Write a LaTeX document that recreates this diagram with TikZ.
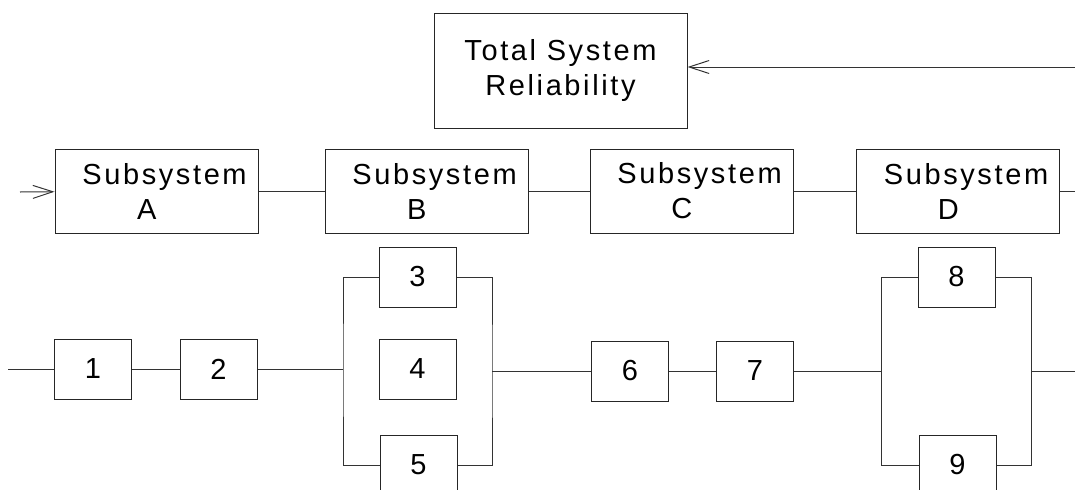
\documentclass[tikz,border=0pt]{standalone}
\usepackage{fontspec}
\setmainfont{Liberation Sans}
\newfontfamily\spacedfont{Liberation Sans}[LetterSpace=9]
\usetikzlibrary{arrows.meta, positioning, calc}

% label of a subsystem block: word a little right, letter a little left
\newcommand{\subsys}[1]{\kern8pt Subsystem\\#1\kern9.6pt}

\begin{document}
\begin{tikzpicture}[x=50pt, y=50pt]
  \tikzset{
    bigbox/.style={draw=black!85, line width=0.5pt, inner sep=0pt, align=center,
      font=\spacedfont\fontsize{14.5}{17.5}\selectfont},
    subbox/.style={bigbox, minimum width=101.5pt, minimum height=42pt},
    unitbox/.style={draw=black!85, line width=0.5pt, inner sep=0pt,
      minimum width=38.5pt, minimum height=30pt,
      font=\fontsize{14.5}{17}\selectfont},
    wire/.style={draw=black!80, line width=0.5pt},
    feed/.style={wire, -{Straight Barb[length=10pt, width=6.5pt]}}
  }

  \useasboundingbox (0,0) rectangle (10.75,4.89);

  % Top level result
  \node[bigbox, minimum width=126.5pt, minimum height=57.5pt] (total) at (5.605,4.185)
    {Total System\\Reliability};

  % Subsystems in series
  \node[subbox] (subA) at (1.565,2.98) {\subsys{A}};
  \node[subbox] (subB) at (4.265,2.98) {\subsys{B}};
  \node[subbox] (subC) at (6.915,2.98) {\subsys{C}};
  \node[subbox] (subD) at (9.58,2.98)  {\subsys{D}};

  % Components
  \node[unitbox] (n1) at (0.93,1.20)  {1};
  \node[unitbox] (n2) at (2.185,1.20) {2};
  \node[unitbox] (n3) at (4.175,2.12) {3};
  \node[unitbox] (n4) at (4.175,1.20) {4};
  \node[unitbox] (n5) at (4.185,0.24) {5};
  \node[unitbox] (n6) at (6.30,1.18)  {6};
  \node[unitbox] (n7) at (7.55,1.18)  {7};
  \node[unitbox] (n8) at (9.565,2.12) {8};
  \node[unitbox] (n9) at (9.575,0.24) {9};

  % Free ends and branch points
  \coordinate (inA)  at (0.20,2.97);
  \coordinate (outD) at (10.75,3.01);
  \coordinate (fb)   at (10.75,4.22);
  \coordinate (in1)  at (0.08,1.20);
  \coordinate (sL1)  at (3.43,1.20);
  \coordinate (sR1)  at (4.92,1.18);
  \coordinate (sL2)  at (8.81,1.18);
  \coordinate (sR2)  at (10.31,1.18);
  \coordinate (out2) at (10.75,1.18);

  % Subsystem chain
  \draw[feed] (inA) -- (subA);
  \draw[wire] (subA) -- (subB);
  \draw[wire] (subB) -- (subC);
  \draw[wire] (subC) -- (subD);
  \draw[wire] (subD) -- (subD -| outD);
  \draw[feed] (fb) -- (fb -| total.east);

  % Component network
  \draw[wire] (in1) -- (n1);
  \draw[wire] (n1) -- (n2);
  \draw[wire] (n2) -- (sL1);
  \draw[wire] (n3) -| (sL1) |- (n5);
  \draw[wire] (n3) -| (sR1) |- (n5);
  \draw[wire] (sR1) -- (n6);
  \draw[wire] (n6) -- (n7);
  \draw[wire] (n7) -- (sL2);
  \draw[wire] (n8) -| (sL2) |- (n9);
  \draw[wire] (n8) -| (sR2) |- (n9);
  \draw[wire] (sR2) -- (out2);
\end{tikzpicture}
\end{document}
